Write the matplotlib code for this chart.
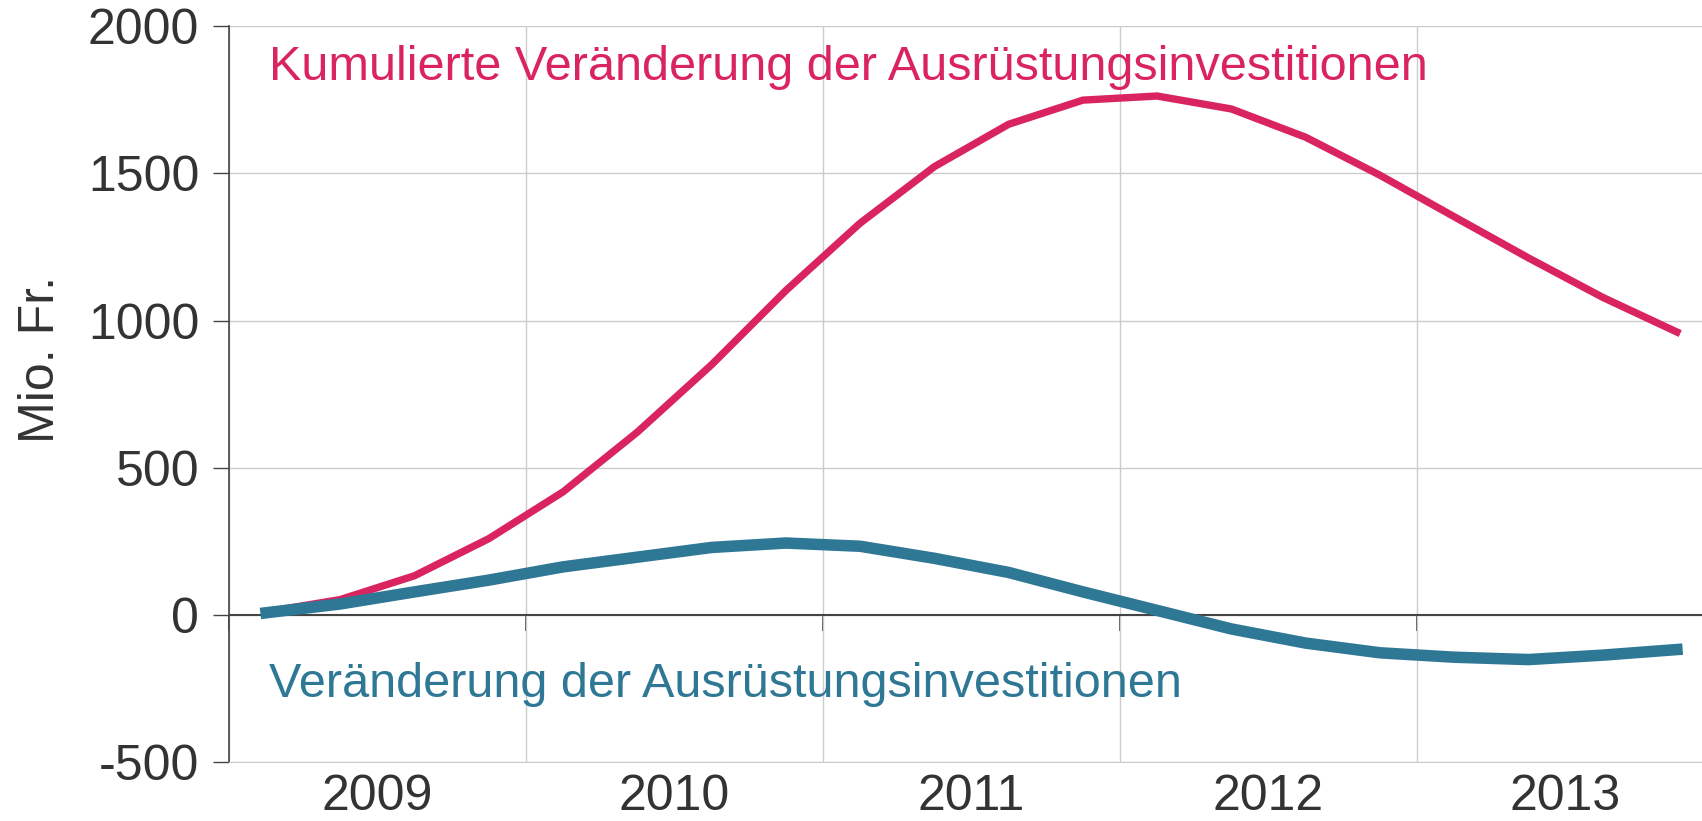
import numpy as np
import matplotlib
matplotlib.use("Agg")
import matplotlib.pyplot as plt

plt.rcParams['font.family'] = ['Liberation Sans', 'DejaVu Sans']
plt.rcParams['axes.unicode_minus'] = False

# Quartale 2009Q1 - 2013Q4 (Mitte des Quartals)
jahre = [2009, 2010, 2011, 2012, 2013]
quartale = np.arange(20) * 0.25 + 2009.125

veraenderung = [7, 37, 78, 118, 163, 196, 229, 244, 233, 192,
                144, 78, 15, -48, -96, -129, -144, -152, -137, -118]
kumuliert = [10, 52, 133, 259, 418, 621, 850, 1102, 1331, 1523,
             1667, 1749, 1763, 1719, 1623, 1494, 1353, 1213, 1079, 961]

rot = '#D9245F'
blau = '#2E7896'
grau = '#333333'
dunkel = '#444444'

fig = plt.figure(figsize=(17.02, 8.21), dpi=100)
ax = fig.add_axes([229 / 1702, 0.0719, (1714 - 229) / 1702, 0.968 - 0.0719])

ax.plot(quartale, kumuliert, color=rot, lw=5.3, solid_joinstyle='miter', zorder=3)
ax.plot(quartale, veraenderung, color=blau, lw=8.3, solid_joinstyle='miter', zorder=4)

ax.set_xlim(2009, 2014)
ax.set_ylim(-500, 2000)

# y-Achse
ax.set_yticks(np.arange(-500, 2001, 500))
ax.tick_params(axis='y', length=11.5, width=1, color=dunkel, labelsize=36,
               labelcolor=grau, pad=10)
ax.set_ylabel('Mio. Fr.', fontsize=36, color=grau)
ax.yaxis.set_label_coords(-0.111, 0.547)
ax.grid(True, color='#cccccc', lw=1)

# x-Achse: Gitter an Jahresgrenzen, Beschriftung in Jahresmitte
ax.set_xticks(jahre + [2014])
ax.set_xticklabels([])
ax.set_xticks([j + 0.5 for j in jahre], [str(j) for j in jahre], minor=True)
ax.tick_params(axis='x', which='both', length=0, labelsize=36, labelcolor=grau, pad=9)

ax.spines['top'].set_visible(False)
ax.spines['right'].set_visible(False)
ax.spines['bottom'].set_color('#cccccc')
ax.spines['left'].set_color(dunkel)
ax.spines['left'].set_linewidth(1.2)

# Nulllinie mit Ticks nach unten
ax.axhline(0, color=dunkel, lw=1.5, zorder=2)
null = ax.secondary_xaxis(0.2)
null.set_xticks(jahre + [2014])
null.set_xticklabels([])
null.tick_params(axis='x', length=11.5, width=1.3, color=dunkel, direction='out')
null.spines['bottom'].set_visible(False)

ax.text(2009.135, 1819, 'Kumulierte Veränderung der Ausrüstungsinvestitionen',
        color=rot, fontsize=35, va='baseline', ha='left')
ax.text(2009.135, -279, 'Veränderung der Ausrüstungsinvestitionen',
        color=blau, fontsize=35, va='baseline', ha='left')

fig.savefig('out.png', dpi=100)
